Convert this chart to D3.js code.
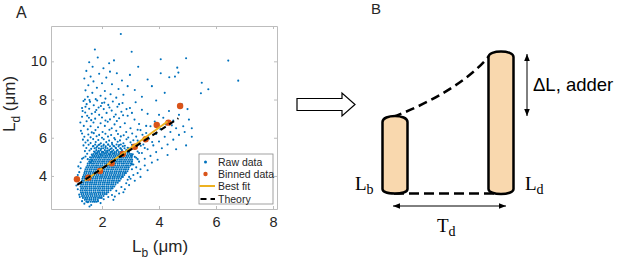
<!DOCTYPE html>
<html>
<head>
<meta charset="utf-8">
<script src="https://cdn.jsdelivr.net/npm/d3@7"></script>
<style>
  body { margin: 0; background: #fff; }
  svg { display: block; font-family: "Liberation Sans", Arial, sans-serif; }
</style>
</head>
<body>
<div id="chart"></div>
<script>
// ---- data ----
const xTicks = [2, 4, 6, 8]
const yTicks = [4, 6, 8, 10]

// dense part of the raw cloud, one row per L_d value: [Ld, [Lb, ...]]
const rawCore = [
  [2.65, [1.45,1.52,1.60,1.67,1.75,1.81]],
  [2.75, [1.40,1.47,1.55,1.62,1.70,1.77,1.85]],
  [2.85, [1.33,1.41,1.48,1.56,1.63,1.71,1.78,1.86,1.93,1.99]],
  [2.95, [1.30,1.37,1.45,1.52,1.60,1.67,1.75,1.82,1.90,1.97,2.05]],
  [3.05, [1.28,1.35,1.43,1.50,1.58,1.65,1.73,1.80,1.88,1.95,2.03,2.10,2.16]],
  [3.15, [1.26,1.33,1.41,1.48,1.56,1.63,1.71,1.78,1.86,1.93,2.01,2.08,2.16,2.22]],
  [3.25, [1.25,1.32,1.40,1.47,1.55,1.62,1.70,1.77,1.85,1.92,2.00,2.07,2.15,2.22,2.30]],
  [3.35, [1.27,1.34,1.42,1.49,1.57,1.64,1.72,1.79,1.87,1.94,2.02,2.09,2.17,2.24,2.32,2.37]],
  [3.45, [1.25,1.32,1.40,1.47,1.55,1.62,1.70,1.77,1.85,1.92,2.00,2.07,2.15,2.22,2.30,2.37,2.43]],
  [3.55, [1.27,1.34,1.42,1.49,1.57,1.64,1.72,1.79,1.87,1.94,2.02,2.09,2.17,2.24,2.32,2.39,2.47]],
  [3.65, [1.28,1.35,1.43,1.50,1.58,1.65,1.73,1.80,1.88,1.95,2.03,2.10,2.18,2.25,2.33,2.40,2.48,2.55]],
  [3.75, [1.30,1.37,1.45,1.52,1.60,1.67,1.75,1.82,1.90,1.97,2.05,2.12,2.20,2.27,2.35,2.42,2.50,2.57,2.62]],
  [3.85, [1.31,1.38,1.46,1.53,1.61,1.68,1.76,1.83,1.91,1.98,2.06,2.13,2.21,2.28,2.36,2.43,2.51,2.58,2.66]],
  [3.95, [1.33,1.40,1.48,1.55,1.63,1.70,1.78,1.85,1.93,2.00,2.08,2.15,2.23,2.30,2.38,2.45,2.53,2.60,2.68,2.73]],
  [4.05, [1.36,1.43,1.51,1.58,1.66,1.73,1.81,1.88,1.96,2.03,2.11,2.18,2.26,2.33,2.41,2.48,2.56,2.63,2.71,2.78]],
  [4.15, [1.38,1.45,1.53,1.60,1.68,1.75,1.83,1.90,1.98,2.05,2.13,2.20,2.28,2.35,2.43,2.50,2.58,2.65,2.73,2.80,2.84]],
  [4.25, [1.40,1.47,1.55,1.62,1.70,1.77,1.85,1.92,2.00,2.07,2.15,2.22,2.30,2.37,2.45,2.52,2.60,2.67,2.75,2.82,2.89]],
  [4.35, [1.42,1.49,1.57,1.64,1.72,1.79,1.87,1.94,2.02,2.09,2.17,2.24,2.32,2.39,2.47,2.54,2.62,2.69,2.77,2.84,2.92]],
  [4.45, [1.45,1.52,1.60,1.67,1.75,1.82,1.90,1.97,2.05,2.12,2.20,2.27,2.35,2.42,2.50,2.57,2.65,2.72,2.80,2.87,2.94]],
  [4.55, [1.49,1.56,1.64,1.71,1.79,1.86,1.94,2.01,2.09,2.16,2.24,2.31,2.39,2.46,2.54,2.61,2.69,2.76,2.84,2.91,2.99]],
  [4.65, [1.50,1.57,1.65,1.72,1.80,1.87,1.95,2.02,2.10,2.17,2.25,2.32,2.40,2.47,2.55,2.62,2.70,2.77,2.85,2.92,3.00,3.04]],
  [4.75, [1.55,1.62,1.70,1.77,1.85,1.92,2.00,2.07,2.15,2.22,2.30,2.37,2.45,2.52,2.60,2.67,2.75,2.82,2.90,2.97,3.05]],
  [4.85, [1.58,1.65,1.73,1.80,1.88,1.95,2.03,2.10,2.18,2.25,2.33,2.40,2.48,2.55,2.63,2.70,2.78,2.85,2.93,3.00,3.06]],
  [4.95, [1.62,1.69,1.77,1.84,1.92,1.99,2.07,2.14,2.22,2.29,2.37,2.44,2.52,2.59,2.67,2.74,2.82,2.89,2.97,3.04]],
  [5.05, [1.66,1.73,1.81,1.88,1.96,2.03,2.11,2.18,2.26,2.33,2.41,2.48,2.56,2.63,2.71,2.78,2.86,2.93,3.01,3.05]],
  [5.15, [1.70,1.77,1.85,1.92,2.00,2.07,2.15,2.22,2.30,2.37,2.45,2.52,2.60,2.67,2.75,2.82,2.90,2.97,3.02]],
  [5.25, [1.75,1.84,1.90,1.99,2.05,2.14,2.20,2.29,2.35,2.44,2.50,2.59,2.65,2.74,2.80,2.89,2.95]],
  [5.35, [1.80,1.95,2.10,2.25,2.40,2.55,2.70,2.85]],
  [5.45, [1.74,1.89,2.04,2.19,2.34,2.49,2.64,2.79,2.94]],
  [5.55, [1.68,1.83,1.98,2.13,2.28,2.43,2.58,2.73]],
  [5.65, [1.76,1.91,2.06,2.21,2.36,2.51,2.66]]
]

// scattered raw points: [Lb, Ld]
const rawSpread = [
  [2.66,11.43],[1.75,10.62],[3.04,10.5],[4.06,10.11],[4.95,10.16],[6.43,10.04],[1.67,9.72],[2.05,9.64],
  [3.27,9.72],[2.28,9.46],[2.52,9.38],[2.98,9.29],[4.64,9.67],[4.06,9.38],[4.68,9.41],[4.56,9.2],[4.36,9.17],
  [6.78,8.99],[5.5,8.88],[5.73,8.54],[5.47,8.33],[1.85,10.2],[1.55,9.95],[2.42,10.05],[1.45,9.5],[1.9,9.35],
  [2.15,9.15],[1.38,9.1],[2.7,9.0],[1.7,8.95],[2.0,8.85],[1.52,8.75],[2.35,8.8],[1.82,8.62],[2.58,8.55],
  [1.42,8.48],[2.1,8.45],[1.66,8.35],[3.15,8.5],[2.3,8.28],[1.95,8.2],[1.5,8.15],[2.75,8.25],[2.12,8.05],
  [1.78,8.02],[1.4,8.0],[2.5,8.1],[3.4,8.15],[3.75,8.7],[3.6,9.05],[4.2,8.35],[2.9,8.7],[1.6,9.2],[2.25,9.9],[3.9,7.95],
  [1.35,7.92],[1.58,7.88],[1.83,7.95],[2.08,7.84],[2.38,7.9],[2.72,7.82],[3.18,7.86],[1.46,7.76],[1.71,7.7],
  [1.96,7.66],[2.22,7.72],[2.54,7.62],[2.98,7.56],[1.3,7.56],[1.55,7.52],[1.8,7.45],[2.06,7.5],[2.34,7.42],
  [2.68,7.36],[3.4,7.46],[1.41,7.32],[1.64,7.26],[1.9,7.2],[2.16,7.3],[2.48,7.22],[2.9,7.15],[3.6,7.25],
  [1.3,7.1],[1.54,7.05],[1.76,7.0],[2.0,7.06],[2.28,6.96],[2.6,7.02],[3.14,6.95],[1.46,6.86],[1.7,6.8],
  [1.95,6.76],[2.2,6.84],[2.44,6.7],[2.8,6.76],[3.3,6.72],[1.36,6.62],[1.6,6.6],[1.86,6.55],[2.1,6.62],
  [2.34,6.5],[2.64,6.56],[3.0,6.5],[3.55,6.62],[1.42,7.62],[2.6,7.76],[1.56,7.98],[2.86,7.5],[2.0,7.82],
  [1.24,6.8],[1.88,7.58],[2.42,7.1],[1.62,6.92],[2.74,7.18],[2.12,6.9],[1.32,7.4],[2.26,7.58],[3.05,7.3],
  [1.76,7.35],[2.52,6.88],[1.48,7.15],
  [1.26,6.36],[1.5,6.44],[1.77,6.4],[2.02,6.3],[2.5,6.36],[2.85,6.3],[3.25,6.42],[1.64,6.28],[2.26,6.42],
  [1.3,6.22],[1.52,6.17],[1.71,6.24],[1.9,6.15],[2.12,6.21],[2.32,6.14],[2.56,6.2],[2.76,6.13],[3.06,6.22],[3.42,6.16],
  [1.38,6.05],[1.6,6.02],[1.81,6.08],[2.0,6.0],[2.21,6.06],[2.43,5.99],[2.66,6.07],[2.92,6.01],[3.2,6.06],[3.62,6.03],
  [1.33,5.9],[1.5,5.86],[1.69,5.93],[1.87,5.88],[2.06,5.92],[2.25,5.85],[2.46,5.91],[2.63,5.86],[2.86,5.92],[3.1,5.87],[3.46,5.9],
  [1.42,5.75],[1.6,5.72],[1.78,5.78],[1.96,5.71],[2.15,5.77],[2.35,5.73],[2.55,5.79],[2.75,5.71],[3.0,5.76],[3.3,5.72],[3.76,5.78],
  [1.35,5.6],[1.53,5.63],[1.7,5.57],[1.88,5.62],[2.05,5.58],[2.22,5.64],[2.4,5.57],[2.6,5.62],[2.8,5.58],[3.05,5.63],[3.36,5.58],
  [1.45,5.46],[1.62,5.42],[1.8,5.48],[1.97,5.43],[2.12,5.47],[2.3,5.41],[2.48,5.47],[2.66,5.43],[2.9,5.48],[3.15,5.42],[3.5,5.46],
  [1.4,5.3],[1.56,5.33],[1.72,5.28],[1.88,5.32],[2.02,5.27],[2.18,5.33],[2.35,5.29],[2.52,5.33],[2.7,5.27],[2.95,5.32],[3.25,5.28],
  [1.48,5.16],[1.64,5.12],[1.8,5.18],[1.95,5.13],[2.1,5.19],[2.26,5.14],[2.42,5.18],[2.6,5.12],[2.8,5.17],[3.08,5.13],[3.3,5.2],
  [1.42,5.02],[1.58,4.98],[1.74,5.03],[1.9,4.97],[3.15,5.0],[3.25,4.88],[1.5,4.88],[1.65,4.8],[1.35,4.95],[1.6,4.7],
  [3.1,4.6],[3.3,4.75],[3.5,4.9],[3.2,4.95],[3.7,5.05],[3.4,5.2],[3.9,5.25],[3.6,5.4],[4.1,5.45],[3.8,5.6],
  [4.3,5.65],[4.0,5.8],[4.5,5.9],[3.65,5.95],[4.2,6.05],[4.7,6.15],[3.9,6.2],[4.4,6.3],[4.05,6.45],[4.6,6.5],
  [4.85,6.6],[4.25,6.7],[3.85,6.85],[4.5,6.9],[5.05,6.95],[4.15,7.05],[4.7,7.2],[5.15,6.5],[5.15,6.05],[4.95,5.6],
  [3.5,4.55],[3.75,4.7],[4.3,5.1],[3.95,4.85],[4.6,5.4],[3.35,6.4],[3.7,6.6],[4.35,7.4],[4.0,7.2],[4.9,6.3],
  [3.45,5.65],[3.55,6.25],[4.45,6.65],[3.25,5.85],[5.0,7.5],[4.8,7.75],[3.35,4.35],[3.6,4.3],
  [1.38,2.55],[1.5,2.62],[1.62,2.48],[1.72,2.66],[1.3,2.68],[1.86,2.68],[1.56,2.4],[1.95,2.58],
  [1.15,3.3],[1.18,3.6],[1.12,3.9],[1.2,4.2],[1.2,3.02],[1.17,4.5],[1.25,4.72],[1.3,4.9],[1.22,2.9],[1.1,3.5],
  [1.15,4.05],[1.25,4.4],[2.35,3.0],[2.5,3.22],[2.68,3.42],[2.85,3.62],[3.0,3.85],[3.1,4.05],[2.6,3.08],[2.8,3.3],
  [2.95,3.52],[3.15,3.75],[3.25,4.15],[2.45,2.92],[2.22,2.9],[2.06,2.78],[3.05,4.35],[3.2,4.45],[2.4,2.75],
  [2.75,3.15],[3.35,3.95],[2.95,3.95],[3.05,4.6],[2.9,3.8]
]

const binLb = [1.12, 1.52, 1.93, 2.34, 2.73, 3.15, 3.53, 3.92, 4.33, 4.74]
const binLd = [3.83, 3.91, 4.26, 4.66, 5.15, 5.53, 5.92, 6.67, 6.79, 7.66]

const fitLb = [1.40, 4.30]
const fitLd = [3.75, 6.85]
const theoryLb = [1.13, 4.68]
const theoryLd = [3.53, 7.02]

const legendLabels = ["Raw data", "Binned data", "Best fit", "Theory"]

// ---- setup ----
const width = 617
const height = 262
const blue = "#0072BD", orange = "#D95319", yellow = "#EDB120", ink = "#262626"

const svg = d3.select("#chart")
  .append("svg")
  .attr("width", width)
  .attr("height", height)

const x = d3.scaleLinear().domain([0.21, 8.14]).range([51, 277])
const y = d3.scaleLinear().domain([2.27, 11.85]).range([209, 26])

const raw = rawCore.flatMap(([ld, lbs]) => lbs.map(lb => [lb, ld])).concat(rawSpread)

// panel A
const A = svg.append("g")

A.append("text").attr("x", 16).attr("y", 18)
  .style("font-size", "16px").style("fill", ink).text("A")

// raw data cloud
A.append("g").selectAll("circle")
  .data(raw)
  .join("circle")
  .attr("cx", d => x(d[0]))
  .attr("cy", d => y(d[1]))
  .attr("r", 1.05)
  .attr("fill", blue)

// binned data
A.append("g").selectAll("circle")
  .data(binLb.map((lb, i) => [lb, binLd[i]]))
  .join("circle")
  .attr("cx", d => x(d[0]))
  .attr("cy", d => y(d[1]))
  .attr("r", 3.2)
  .attr("fill", orange)

const line = d3.line().x(d => x(d[0])).y(d => y(d[1]))

A.append("path")
  .attr("d", line(fitLb.map((lb, i) => [lb, fitLd[i]])))
  .attr("stroke", yellow).attr("stroke-width", 2).attr("fill", "none")

A.append("path")
  .attr("d", line(theoryLb.map((lb, i) => [lb, theoryLd[i]])))
  .attr("stroke", "#000").attr("stroke-width", 2)
  .attr("stroke-dasharray", "6,4").attr("fill", "none")

// axes (box, ticks pointing in)
const axisColor = "#bdbdbd"
const styleAxis = g => {
  g.select(".domain").attr("stroke", axisColor)
  g.selectAll(".tick line").attr("stroke", axisColor)
  g.selectAll(".tick text").style("font-size", "14.5px").style("fill", ink)
    .style("font-family", "'Liberation Sans', Arial, sans-serif")
}

A.append("g").attr("transform", "translate(0,209)")
  .call(d3.axisBottom(x).tickValues(xTicks).tickSizeInner(-3).tickSizeOuter(0).tickPadding(8))
  .call(styleAxis)
A.append("g").attr("transform", "translate(0,26)")
  .call(d3.axisTop(x).tickValues(xTicks).tickSizeInner(-3).tickSizeOuter(0).tickFormat(""))
  .call(styleAxis)
A.append("g").attr("transform", "translate(51,0)")
  .call(d3.axisLeft(y).tickValues(yTicks).tickSizeInner(-3).tickSizeOuter(0).tickPadding(4))
  .call(styleAxis)
A.append("g").attr("transform", "translate(277,0)")
  .call(d3.axisRight(y).tickValues(yTicks).tickSizeInner(-3).tickSizeOuter(0).tickFormat(""))
  .call(styleAxis)

// axis labels
const xl = A.append("text").attr("x", 160).attr("y", 252)
  .attr("text-anchor", "middle").style("font-size", "17px").style("fill", ink)
xl.append("tspan").text("L")
xl.append("tspan").attr("dy", 5).style("font-size", "12px").text("b")
xl.append("tspan").attr("dy", -5).text(" (\u03bcm)")

const yl = A.append("text").attr("transform", "translate(15,104) rotate(-90)")
  .attr("text-anchor", "middle").style("font-size", "17px").style("fill", ink)
yl.append("tspan").text("L")
yl.append("tspan").attr("dy", 5).style("font-size", "12px").text("d")
yl.append("tspan").attr("dy", -5).text(" (\u03bcm)")

// legend
const lg = A.append("g").attr("transform", "translate(199,154)")
lg.append("rect").attr("width", 74).attr("height", 50)
  .attr("fill", "#fff").attr("stroke", "#8a8a8a").attr("stroke-width", 0.8)

const rowY = [8, 20, 32, 45]
lg.selectAll("text.lab")
  .data(legendLabels)
  .join("text")
  .attr("class", "lab")
  .attr("x", 19)
  .attr("y", (d, i) => rowY[i] + 3.6)
  .style("font-size", "10.5px")
  .style("fill", ink)
  .text(d => d)

lg.append("circle").attr("cx", 6.5).attr("cy", rowY[0]).attr("r", 1.5).attr("fill", blue)
lg.append("circle").attr("cx", 6.5).attr("cy", rowY[1]).attr("r", 2.2).attr("fill", orange)
lg.append("line").attr("x1", 0.5).attr("x2", 16).attr("y1", rowY[2]).attr("y2", rowY[2])
  .attr("stroke", yellow).attr("stroke-width", 2)
lg.append("line").attr("x1", 1.5).attr("x2", 16).attr("y1", rowY[3]).attr("y2", rowY[3])
  .attr("stroke", "#000").attr("stroke-width", 2).attr("stroke-dasharray", "6,4")

// panel B: schematic
const B = svg.append("g")
B.append("text").attr("x", 371).attr("y", 14)
  .style("font-size", "15px").style("fill", ink).text("B")

// hollow arrow between panels
B.append("path")
  .attr("d", "M297,98.5 H342 V93 L355,104.5 L342,116 V110.5 H297 Z")
  .attr("fill", "#fff").attr("stroke", "#000").attr("stroke-width", 1.2)

const cellPath = (x0, x1, top, sideTop, sideBot, bot) => {
  const ct = (8 * top - 2 * sideTop) / 6
  const cb = (8 * bot - 2 * sideBot) / 6
  return `M${x0},${sideTop} C${x0},${ct} ${x1},${ct} ${x1},${sideTop} L${x1},${sideBot} ` +
         `C${x1},${cb} ${x0},${cb} ${x0},${sideBot} Z`
}

// dashed growth curve and baseline
B.append("path")
  .attr("d", "M393,117 C430,103 470,80 489,56")
  .attr("fill", "none").attr("stroke", "#000").attr("stroke-width", 2.5)
  .attr("stroke-dasharray", "9,5")
B.append("path")
  .attr("d", "M394,193.5 H503")
  .attr("fill", "none").attr("stroke", "#000").attr("stroke-width", 2.5)
  .attr("stroke-dasharray", "10,5")

B.append("path")
  .attr("d", cellPath(382.5, 407.5, 116, 122, 189, 193.5))
  .attr("fill", "#F9D8AE").attr("stroke", "#000").attr("stroke-width", 2.5)
B.append("path")
  .attr("d", cellPath(488.5, 513.5, 51.5, 57, 189, 194))
  .attr("fill", "#F9D8AE").attr("stroke", "#000").attr("stroke-width", 2.5)

// double arrows
const defs = svg.append("defs")
defs.append("marker").attr("id", "ah").attr("viewBox", "0 0 10 10")
  .attr("refX", 10).attr("refY", 5).attr("markerWidth", 7).attr("markerHeight", 7)
  .attr("markerUnits", "userSpaceOnUse").attr("orient", "auto-start-reverse")
  .append("path").attr("d", "M0,1 L10,5 L0,9 Z").attr("fill", "#000")

B.append("line").attr("x1", 393).attr("x2", 506).attr("y1", 206).attr("y2", 206)
  .attr("stroke", "#000").attr("stroke-width", 1)
  .attr("marker-start", "url(#ah)").attr("marker-end", "url(#ah)")
B.append("line").attr("x1", 527).attr("x2", 527).attr("y1", 54).attr("y2", 116)
  .attr("stroke", "#000").attr("stroke-width", 1)
  .attr("marker-start", "url(#ah)").attr("marker-end", "url(#ah)")

// labels
const serif = "'Liberation Serif', 'DejaVu Serif', serif"
const sub = (g, xx, yy, main, s) => {
  const t = g.append("text").attr("x", xx).attr("y", yy)
    .style("font-family", serif).style("font-size", "19px").style("fill", "#000")
  t.append("tspan").text(main)
  t.append("tspan").attr("dy", 4).style("font-size", "14px").text(s)
}
sub(B, 355, 190, "L", "b")
sub(B, 525, 190, "L", "d")
sub(B, 437, 232, "T", "d")

B.append("text").attr("x", 533).attr("y", 91)
  .style("font-size", "18.5px").style("fill", "#000").text("\u0394L, adder")
</script>
</body>
</html>
